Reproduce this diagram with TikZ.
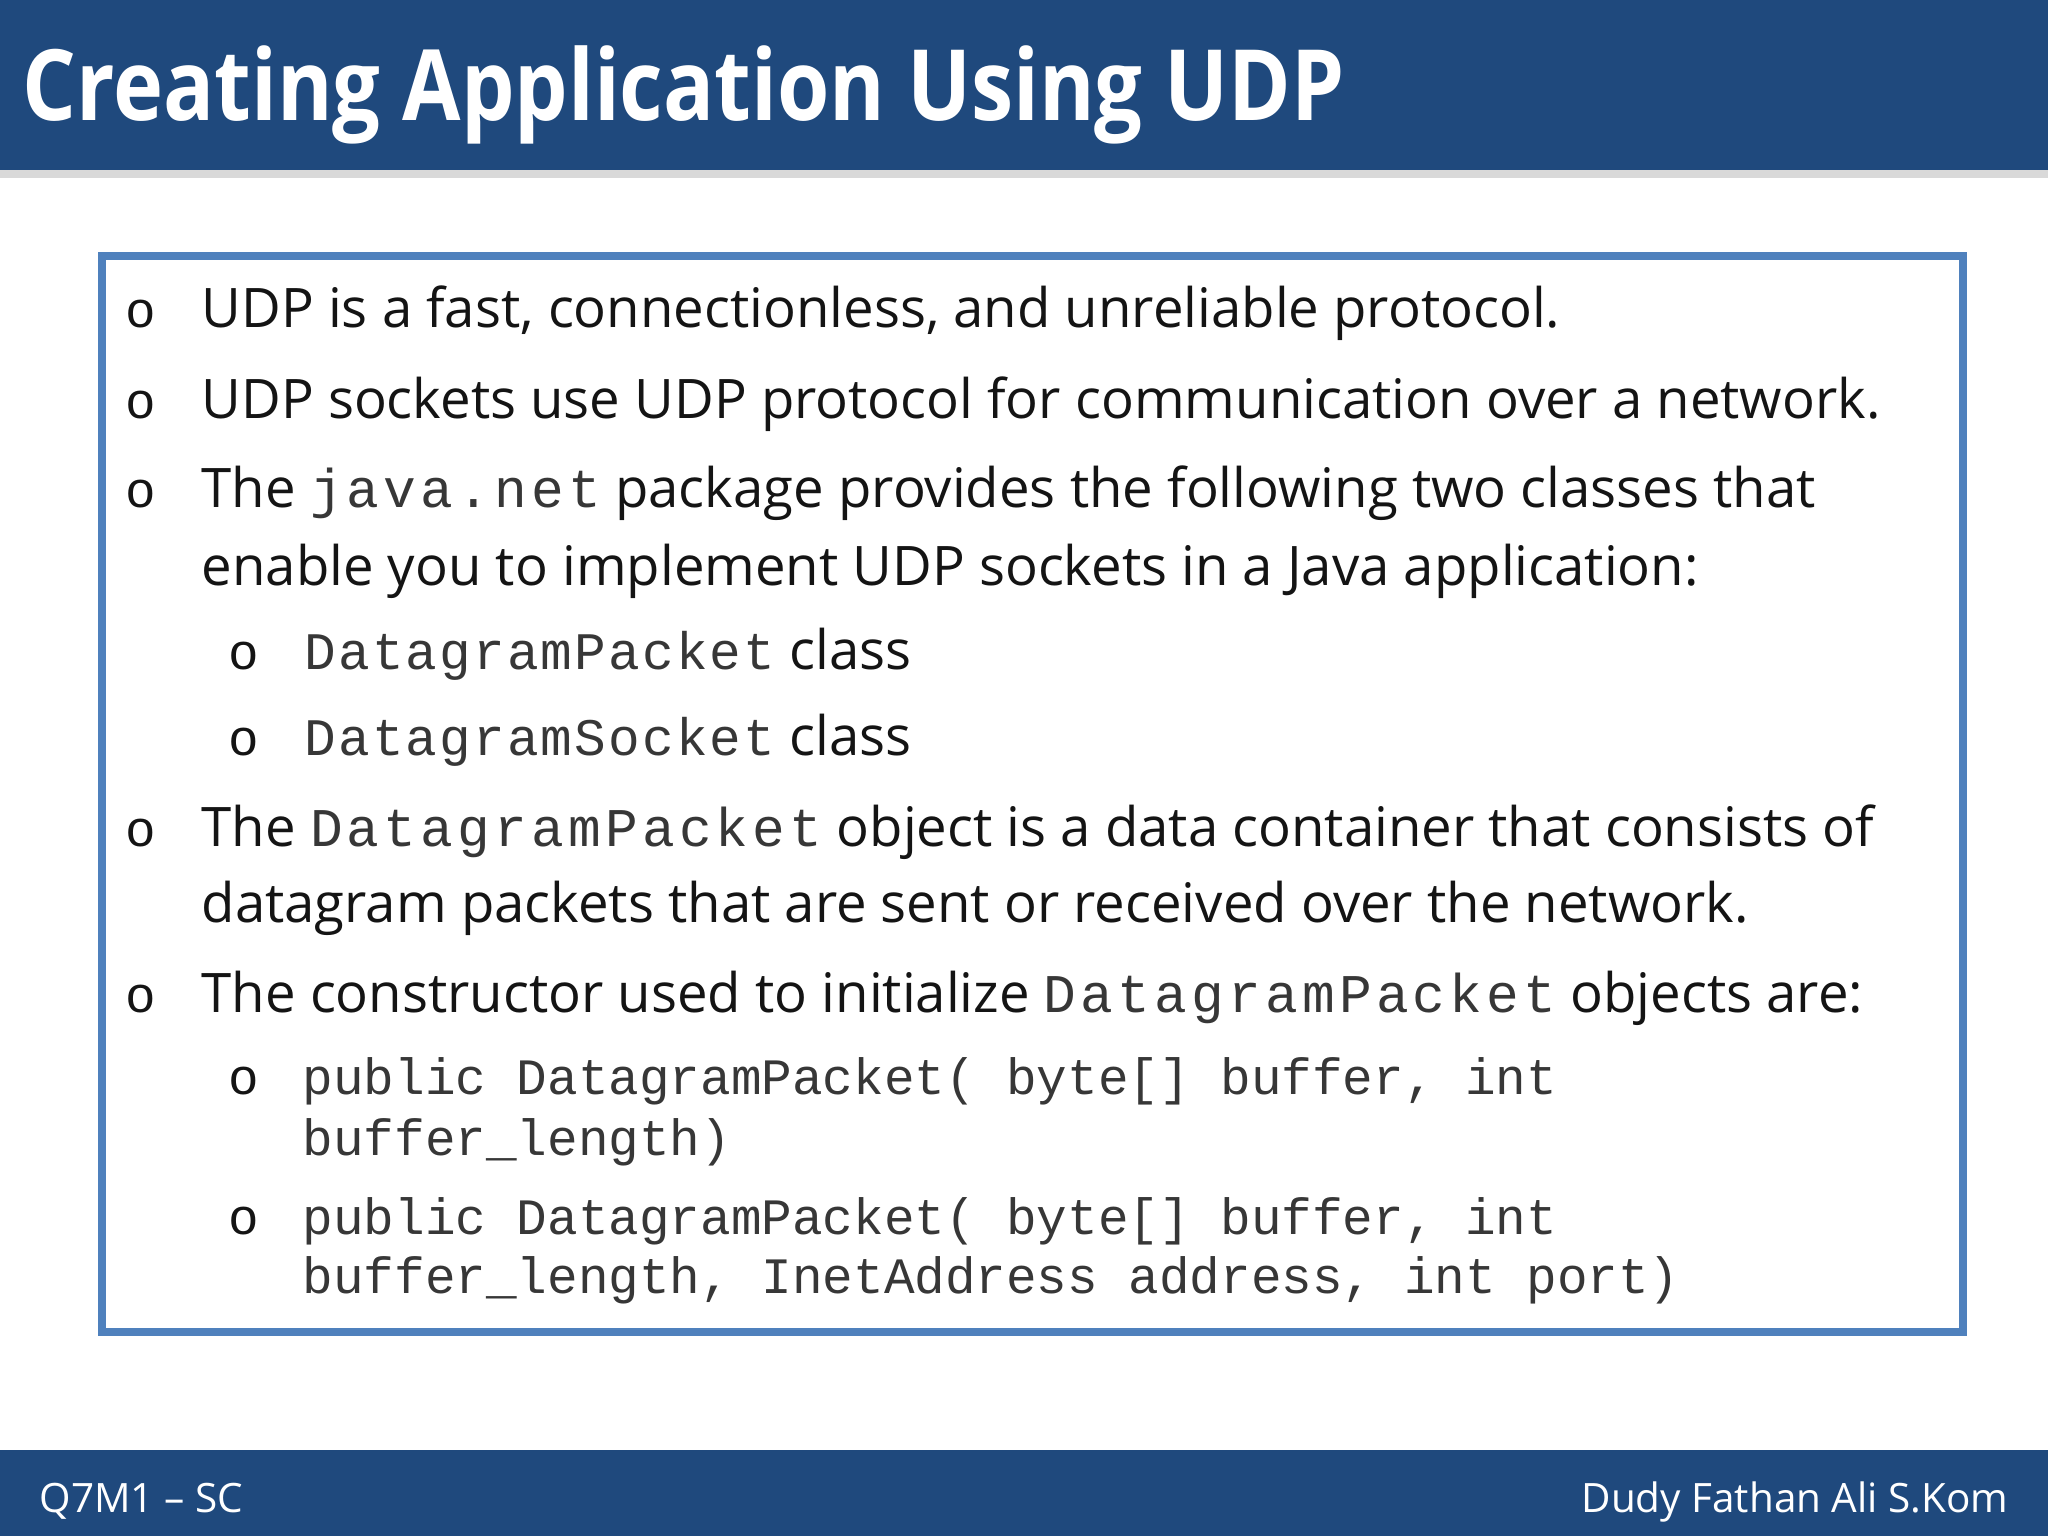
\documentclass[tikz,border=0pt]{standalone}
\usepackage{fontspec}
\setmainfont{Open Sans}
\setmonofont{Liberation Mono}
\newfontfamily\titlefont[FakeStretch=0.86]{Open Sans Bold}
\newfontfamily\monoA[LetterSpace=7.7]{Liberation Mono}
\newfontfamily\monoB[LetterSpace=4]{Liberation Mono}
\definecolor{hdr}{RGB}{31,73,125}
\definecolor{bx}{RGB}{79,129,189}
\definecolor{txt}{RGB}{20,20,20}
\newcommand{\inl}[1]{{\fontsize{15.5}{18}\monoA\color{txt!85}#1}}
\newcommand{\cls}[1]{{\fontsize{15}{18}\monoB\color{txt!85}#1}}
\begin{document}
\begin{tikzpicture}[x=0.01cm,y=-0.01cm,
  body/.style={anchor=base west,inner sep=0,font=\fontsize{15.5}{18}\selectfont,text=txt},
  bul/.style={anchor=base west,inner sep=0,font=\fontsize{14.5}{18}\ttfamily,text=txt},
  code/.style={anchor=base west,inner sep=0,font=\fontsize{14.5}{18}\ttfamily,text=txt!85},
  foot/.style={anchor=base,inner sep=0,font=\fontsize{11.5}{14}\selectfont,text=white}]
\useasboundingbox (0,0) rectangle (2048,1536);
\fill[white] (0,0) rectangle (2048,1536);
\fill[black!15] (0,170) rectangle (2048,178);
\fill[hdr] (0,0) rectangle (2048,170);
\node[anchor=base west,inner sep=0,font=\fontsize{28}{34}\titlefont,text=white] (title) at (22,120) {Creating Application Using UDP};
\fill[hdr] (0,1450) rectangle (2048,1536);
\node[foot,anchor=base west] (fl) at (39,1512) {Q7M1 – SC};
\node[foot,anchor=base east] (fr) at (2009,1512) {Dudy Fathan Ali S.Kom};
\draw[bx,line width=2.2pt] (102,256) rectangle (1963,1332);
\node[bul] (b1) at (125,327) {o};
\node[body] (t1) at (201,327) {UDP is a fast, connectionless, and unreliable protocol.};
\node[bul] (b2) at (125,418) {o};
\node[body] (t2) at (201,418) {UDP sockets use UDP protocol for communication over a network.};
\node[bul] (b3) at (125,507) {o};
\node[body] (t3) at (201,507) {The \inl{java.net} package provides the following two classes that};
\node[body] (t4) at (201,585) {enable you to implement UDP sockets in a Java application:};
\node[bul] (b4) at (228,669) {o};
\node[body] (t5) at (304,669) {\cls{DatagramPacket} class};
\node[bul] (b5) at (228,755) {o};
\node[body] (t6) at (304,755) {\cls{DatagramSocket} class};
\node[bul] (b6) at (125,846) {o};
\node[body] (t7) at (201,846) {The \inl{DatagramPacket} object is a data container that consists of};
\node[body] (t8) at (201,922) {datagram packets that are sent or received over the network.};
\node[bul] (b7) at (125,1012) {o};
\node[body] (t9) at (201,1012) {The constructor used to initialize \inl{DatagramPacket} objects are:};
\node[bul] (b8) at (228,1094) {o};
\node[code] (t10) at (302,1094) {public DatagramPacket( byte[] buffer, int};
\node[code] (t11) at (302,1155) {buffer\_length)};
\node[bul] (b9) at (228,1234) {o};
\node[code] (t12) at (302,1234) {public DatagramPacket( byte[] buffer, int};
\node[code] (t13) at (302,1293) {buffer\_length, InetAddress address, int port)};
\end{tikzpicture}
\end{document}
